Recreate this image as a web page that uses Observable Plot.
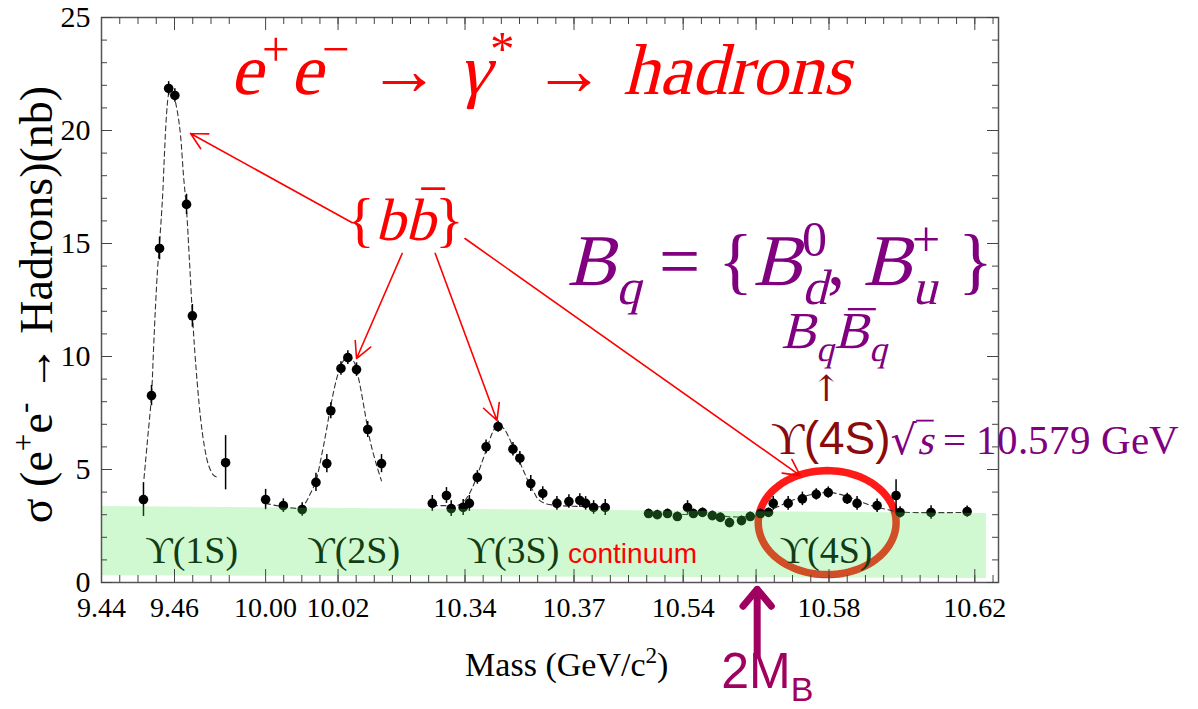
<!DOCTYPE html>
<html><head><meta charset="utf-8">
<script src="https://cdn.jsdelivr.net/npm/d3@7"></script>
<script src="https://cdn.jsdelivr.net/npm/@observablehq/plot@0.6"></script>
<style>
@font-face{font-family:"MathSerif";src:local("Liberation Serif"),local("LiberationSerif"),local("Times New Roman");font-style:normal;font-weight:400;}
html,body{margin:0;padding:0;background:#fff} svg{display:block}
</style>
</head><body><div id="chart"></div>
<script>
// ---------------- data (mass in GeV/c^2, sigma in nb) ----------------
const mass1 = [9.4515, 9.4537, 9.4559, 9.4584, 9.4601, 9.4633, 9.4649, 9.4740];
const sigma1 = [3.67, 8.27, 14.78, 21.86, 21.55, 16.73, 11.80, 5.30];
const err1 = [0.75, 0.45, 0.50, 0.30, 0.30, 0.45, 0.50, 1.20];

const mass2 = [10.0000, 10.0049, 10.0101, 10.0139, 10.0169, 10.0180, 10.0208, 10.0227, 10.0251, 10.0282, 10.0320];
const sigma2 = [3.67, 3.40, 3.23, 4.43, 5.26, 7.60, 9.47, 9.95, 9.42, 6.77, 5.26];
const err2 = [0.45, 0.30, 0.30, 0.40, 0.40, 0.35, 0.30, 0.30, 0.30, 0.35, 0.40];

const mass3 = [10.3310, 10.3349, 10.3362, 10.3395, 10.3412, 10.3434, 10.3458, 10.3491, 10.3532, 10.3551, 10.3581, 10.3614, 10.3653, 10.3686, 10.3716, 10.3732, 10.3754, 10.3786];
const sigma3 = [3.50, 3.85, 3.27, 3.32, 3.50, 4.65, 6.00, 6.90, 5.90, 5.50, 4.38, 3.94, 3.50, 3.58, 3.63, 3.50, 3.32, 3.32];
const err3 = [0.35, 0.35, 0.35, 0.35, 0.35, 0.30, 0.30, 0.25, 0.30, 0.30, 0.35, 0.30, 0.30, 0.30, 0.30, 0.30, 0.30, 0.35];

const mass4 = [10.5305, 10.5329, 10.5357, 10.5384, 10.5412, 10.5428, 10.5453, 10.5480, 10.5502, 10.5527, 10.5560, 10.5584, 10.5612, 10.5634, 10.5647, 10.5688, 10.5727, 10.5765, 10.5798, 10.5850, 10.5877, 10.5932, 10.5984, 10.5995, 10.6080, 10.6179];
const sigma4 = [3.05, 3.00, 3.05, 2.92, 3.32, 3.05, 3.10, 2.96, 2.88, 2.65, 2.74, 2.92, 3.05, 3.10, 3.50, 3.50, 3.70, 3.90, 3.98, 3.70, 3.50, 3.40, 3.85, 3.10, 3.10, 3.14];
const err4 = [0.20, 0.20, 0.20, 0.20, 0.30, 0.20, 0.20, 0.20, 0.20, 0.20, 0.20, 0.20, 0.20, 0.20, 0.30, 0.30, 0.30, 0.25, 0.25, 0.25, 0.30, 0.30, 0.70, 0.25, 0.30, 0.25];

// dashed fit curves
const fitMass1 = [9.45164, 9.45260, 9.45370, 9.45425, 9.45479, 9.45534, 9.45589, 9.45671, 9.45726, 9.45781, 9.45836, 9.45890, 9.45973, 9.46082, 9.46164, 9.46247, 9.46329, 9.46411, 9.46493, 9.46575, 9.46712, 9.46822, 9.46932, 9.47068, 9.47178];
const fitSigma1 = [4.6, 6.3, 8.3, 10.3, 12.2, 13.8, 15.0, 17.0, 19.0, 20.7, 21.6, 21.9, 21.6, 20.8, 19.8, 18.0, 16.5, 14.2, 11.8, 9.8, 7.3, 6.0, 5.2, 4.75, 4.65];
const fitMass2 = [10.00000, 10.00493, 10.00952, 10.01089, 10.01226, 10.01390, 10.01555, 10.01664, 10.01774, 10.01884, 10.01993, 10.02103, 10.02240, 10.02349, 10.02459, 10.02596, 10.02733, 10.02842, 10.02925, 10.03062, 10.03199];
const fitSigma2 = [3.5, 3.35, 3.3, 3.5, 3.9, 4.5, 5.7, 6.6, 7.6, 8.5, 9.2, 9.7, 9.95, 9.95, 9.7, 8.8, 7.6, 6.6, 6.0, 5.2, 4.5];
const fitMass3 = [10.33103, 10.33486, 10.33760, 10.33952, 10.34144, 10.34281, 10.34418, 10.34527, 10.34637, 10.34747, 10.34856, 10.34966, 10.35075, 10.35185, 10.35322, 10.35459, 10.35568, 10.35678, 10.35788, 10.35897, 10.36007, 10.36199, 10.36610, 10.37870];
const fitSigma3 = [3.4, 3.4, 3.4, 3.55, 4.0, 4.5, 5.1, 5.6, 6.1, 6.6, 6.9, 6.95, 6.8, 6.5, 6.0, 5.5, 5.1, 4.7, 4.3, 4.0, 3.7, 3.5, 3.4, 3.35];
const fitMass4 = [10.53048, 10.54473, 10.55568, 10.56116, 10.56390, 10.56664, 10.56938, 10.57212, 10.57486, 10.57760, 10.58034, 10.58308, 10.58582, 10.58856, 10.59130, 10.59404, 10.59678, 10.59952, 10.61788];
const fitSigma4 = [3.0, 3.0, 2.9, 3.0, 3.2, 3.4, 3.6, 3.75, 3.88, 3.96, 3.98, 3.9, 3.75, 3.58, 3.42, 3.3, 3.2, 3.12, 3.1];

// continuum band (mass, lower, upper)
const bandMass = [9.44, 10.6232];
const bandLow = [0.30, 0.18];
const bandHigh = [3.36, 3.05];

// resonance labels
const resonanceNames = ["ϒ(1S)", "ϒ(2S)", "ϒ(3S)", "ϒ(4S)"];
const resonanceMass = [9.4647, 10.0243, 10.3532, 10.5792];

// broken mass axis
const segDomain = [9.44, 9.48, 9.995, 10.04, 10.325, 10.385, 10.525, 10.6265];
const segRange = [101, 247, 247, 410, 410, 628, 628, 998];
const xTickValues = [9.44, 9.46, 10.00, 10.02, 10.34, 10.37, 10.54, 10.58, 10.62];
const xTickLabels = ["9.44", "9.46", "10.00", "10.02", "10.34", "10.37", "10.54", "10.58", "10.62"];
const xMajorTicks = [9.46, 10.00, 10.02, 10.34, 10.37, 10.54, 10.56, 10.58, 10.62];
const xMinorTicks = [
  ...d3.range(9.445, 9.4751, 0.005),
  ...d3.range(10.005, 10.0401, 0.005),
  ...d3.range(10.330, 10.3851, 0.005),
  ...d3.range(10.530, 10.6251, 0.005)
];
const yTickValues = [0, 5, 10, 15, 20, 25];
const yMinorTicks = d3.range(1, 25);

// ---------------- build tables ----------------
const points = [
  ...mass1.map((m, i) => ({m, s: sigma1[i], e: err1[i]})),
  ...mass2.map((m, i) => ({m, s: sigma2[i], e: err2[i]})),
  ...mass3.map((m, i) => ({m, s: sigma3[i], e: err3[i]})),
  ...mass4.map((m, i) => ({m, s: sigma4[i], e: err4[i]}))
];
const fits = [
  ...fitMass1.map((m, i) => ({peak: 1, m, s: fitSigma1[i]})),
  ...fitMass2.map((m, i) => ({peak: 2, m, s: fitSigma2[i]})),
  ...fitMass3.map((m, i) => ({peak: 3, m, s: fitSigma3[i]})),
  ...fitMass4.map((m, i) => ({peak: 4, m, s: fitSigma4[i]}))
];
const band = bandMass.map((m, i) => ({m, lo: bandLow[i], hi: bandHigh[i]}));
const resonances = resonanceNames.map((name, i) => ({name, m: resonanceMass[i]}));

const MPP = (segDomain[1] - segDomain[0]) / (segRange[1] - segRange[0]); // mass per px
const SPP = 25 / (582 - 17); // sigma per px
const LEFT = segDomain[0], RIGHT = segDomain[segDomain.length - 1];

// ring around Υ(4S)
const ring = {m: 10.5795, s: 2.65, rm: 69 * MPP, rs: 52 * SPP};
const ringPts = d3.range(0, 362, 3).map(a => ({m: ring.m + ring.rm * Math.cos(a * Math.PI / 180), s: ring.s + ring.rs * Math.sin(a * Math.PI / 180)}));

// annotation arrows (data coordinates)
const bbArrows = [
  {x1: 10.0238, y1: 15.93, x2: 9.4644, y2: 19.87},
  {x1: 10.0377, y1: 14.56, x2: 10.0251, y2: 9.91},
  {x1: 10.3318, y1: 14.56, x2: 10.3488, y2: 7.17},
  {x1: 10.3400, y1: 15.22, x2: 10.5721, y2: 4.73}
];
const mbArrow = [{x1: 10.5603, y1: -3.23, x2: 10.5603, y2: -0.30}];

const SERIF = "Liberation Serif, Times New Roman, serif";
const MATH = "MathSerif, Liberation Serif, serif";
const SANS = "Liberation Sans, Arial, sans-serif";
const RED = "#ff0000", PURPLE = "#800080", DARKRED = "#8b0a0a", MAGENTA = "#a0005f";

function build() {
  const T = (key, x, y, o = {}) => Plot.text([key], {x: () => x, y: () => y, text: d => d, fontFamily: SERIF, ...o});

  const chart = Plot.plot({
    width: 1198, height: 709,
    marginLeft: 101, marginRight: 200, marginTop: 17, marginBottom: 127,
    style: {background: "#fff", overflow: "visible"},
    x: {type: "linear", domain: segDomain, range: segRange, axis: null},
    y: {type: "linear", domain: [0, 25], range: [582, 17], axis: null},
    marks: [
      Plot.line(ringPts, {x: "m", y: "s", stroke: "#ff1a1a", strokeWidth: 7.5}),
      Plot.line(fits, {x: "m", y: "s", z: "peak", stroke: "#333", strokeWidth: 1.1, strokeDasharray: "5,3.5", curve: "catmull-rom"}),
      Plot.ruleX(points, {x: "m", y1: d => d.s - d.e, y2: d => d.s + d.e, stroke: "#000", strokeWidth: 1.5}),
      Plot.dot(points, {x: "m", y: "s", r: 4.8, fill: "#000"}),
      Plot.text(resonances, {x: "m", y: () => 1.42, text: "name", fontFamily: SERIF, fontSize: 38, fill: "#000"}),
      Plot.area(band, {x1: "m", y1: "lo", y2: "hi", fill: "#4de64d", fillOpacity: 0.26}),
      Plot.frame({stroke: "#555", strokeWidth: 1.5}),
      Plot.ruleX(xMinorTicks, {x: d => d, y1: 0, y2: 7 * SPP, stroke: "#444", strokeWidth: 1}),
      Plot.ruleX(xMajorTicks, {x: d => d, y1: 0, y2: 13 * SPP, stroke: "#444", strokeWidth: 1}),
      Plot.ruleX(xMinorTicks, {x: d => d, y1: 25, y2: 25 - 7 * SPP, stroke: "#444", strokeWidth: 1}),
      Plot.ruleX(xMajorTicks, {x: d => d, y1: 25, y2: 25 - 13 * SPP, stroke: "#444", strokeWidth: 1}),
      Plot.ruleY(yMinorTicks, {y: d => d, x1: LEFT, x2: LEFT + 6 * MPP, stroke: "#444", strokeWidth: 1}),
      Plot.ruleY(yTickValues, {y: d => d, x1: LEFT, x2: LEFT + 11 * MPP, stroke: "#444", strokeWidth: 1}),
      Plot.ruleY(yMinorTicks, {y: d => d, x1: RIGHT, x2: RIGHT - 6 * MPP, stroke: "#444", strokeWidth: 1}),
      Plot.ruleY(yTickValues, {y: d => d, x1: RIGHT, x2: RIGHT - 11 * MPP, stroke: "#444", strokeWidth: 1}),
      Plot.text(xTickValues, {x: d => d, y: () => 0, text: (d, i) => xTickLabels[i], dy: 26, fontFamily: SERIF, fontSize: 28, fill: "#000"}),
      Plot.text(yTickValues, {x: () => LEFT, y: d => d, text: d => String(d), dx: -11, textAnchor: "end", fontFamily: SERIF, fontSize: 30, fill: "#000"}),
      T("Mass (GeV/c2)", 10.3680, -3.67, {fontSize: 34, fill: "#000"}),
      T("σ (e+e- → Hadrons)(nb)", 9.4225, 12.30, {fontSize: 46, fill: "#000", rotate: -90}),
      Plot.arrow(bbArrows, {x1: "x1", y1: "y1", x2: "x2", y2: "y2", stroke: RED, strokeWidth: 1.6, headLength: 17, headAngle: 55}),
      Plot.arrow(mbArrow, {x1: "x1", y1: "y1", x2: "x2", y2: "y2", stroke: MAGENTA, strokeWidth: 7, headLength: 26, headAngle: 80}),
      T("TITLE", 10.3609, 22.65, {fontSize: 72, fill: RED, fontFamily: MATH}),
      T("BB", 10.0386, 16.02, {fontSize: 60, fill: RED, fontFamily: MATH}),
      T("BQ", 10.5666, 14.20, {fontSize: 73, fill: PURPLE, fontFamily: MATH}),
      T("BQBQ", 10.5814, 11.12, {fontSize: 52, fill: PURPLE, fontFamily: MATH}),
      T("↑", 10.5792, 8.55, {fontSize: 36, fill: DARKRED, fontFamily: "DejaVu Serif"}),
      T("U4S", 10.5640, 6.35, {fontSize: 46, fill: DARKRED, textAnchor: "start", fontFamily: MATH}),
      T("continuum", 10.5261, 1.28, {fontSize: 28, fill: RED, fontFamily: SANS}),
      T("MB", 10.5631, -3.98, {fontSize: 50, fill: MAGENTA, fontFamily: SANS})
    ]
  });
  document.getElementById("chart").appendChild(chart);

  // ---------------- rich text (sub/superscripts, italics, bars) ----------------
  const NS = "http://www.w3.org/2000/svg";
  const ctx = document.createElement("canvas").getContext("2d");
  function richify(key, segs, size, barGap = 0.09) {
    const el = Array.from(chart.querySelectorAll("text")).find(t => t.textContent === key);
    if (!el) return;
    el.textContent = "";
    let off = 0, prevW = 0, pendingDx = 0, idx = 0;
    const info = [];
    for (const [txt, kind = "", fill, segSize] of segs) {
      const k = kind.split(" ");
      const base = segSize || size;
      const ts = document.createElementNS(NS, "tspan");
      ts.textContent = txt;
      let target = 0, fs = base;
      if (k.includes("sub")) { target = 0.26 * size; fs = 0.68 * base; }
      if (k.includes("sup")) { target = -0.40 * size; fs = 0.68 * base; }
      if (target - off !== 0) ts.setAttribute("dy", target - off);
      off = target;
      ts.setAttribute("font-size", fs);
      const italic = k.includes("i");
      ts.setAttribute("font-style", italic ? "italic" : "normal");
      let fam = null;
      if (k.includes("sans")) fam = SANS;
      if (k.includes("djv")) fam = "DejaVu Serif";
      if (fam) ts.setAttribute("font-family", fam);
      if (fill) ts.setAttribute("fill", fill);
      el.appendChild(ts);
      if (k.includes("stack")) {
        ts.setAttribute("dx", -prevW);
        const w = ts.getComputedTextLength();
        pendingDx = Math.max(0, prevW - w);
        prevW = w;
      } else {
        if (pendingDx) { ts.setAttribute("dx", pendingDx); pendingDx = 0; }
        prevW = ts.getComputedTextLength();
      }
      info.push({txt, k, idx, fs, italic, fam: fam || el.parentNode.getAttribute("font-family") || MATH, fill});
      idx += txt.length;
    }
    const color = (f) => f || getComputedStyle(el).fill;
    info.forEach((s, j) => {
      if (!s.k.includes("ov") && !s.k.includes("vin")) return;
      const p0 = el.getStartPositionOfChar(s.idx);
      const p1 = el.getEndPositionOfChar(s.idx + s.txt.length - 1);
      const line = document.createElementNS(NS, "line");
      let x1, x2, y, th;
      if (s.k.includes("vin")) {
        const r = info[j - 1];
        ctx.font = `${r.fs}px ${r.fam}`;
        const m = ctx.measureText(r.txt);
        th = 0.045 * r.fs;
        const rEnd = el.getEndPositionOfChar(r.idx + r.txt.length - 1);
        x1 = rEnd.x - 0.6; x2 = p1.x + 1; y = p0.y - m.actualBoundingBoxAscent + th / 2;
      } else {
        ctx.font = `${s.fs}px ${s.fam}`;
        const asc = ctx.measureText(s.txt).actualBoundingBoxAscent;
        const h = asc + barGap * s.fs;
        const shift = s.italic ? h * 0.22 : 0;
        const w = p1.x - p0.x;
        th = 0.045 * s.fs;
        x1 = p0.x + 0.15 * w + shift; x2 = p1.x - 0.05 * w + shift; y = p0.y - h;
      }
      line.setAttribute("x1", x1); line.setAttribute("x2", x2);
      line.setAttribute("y1", y); line.setAttribute("y2", y);
      line.setAttribute("stroke", color(s.fill));
      line.setAttribute("stroke-width", th);
      const tr = el.getAttribute("transform");
      if (tr) line.setAttribute("transform", tr);
      el.parentNode.appendChild(line);
    });
  }
  richify("TITLE", [["e", "i"], ["+", "sup"], ["e", "i"], ["−", "sup"], [" → ", ""], ["γ", "i"], ["*", "sup"], [" → ", ""], ["hadrons", "i"]], 72);
  richify("BB", [["{", ""], ["b", "i"], ["b", "i ov"], ["}", ""]], 60, 0.15);
  richify("BQ", [["B", "i"], ["q", "i sub"], [" = {", ""], ["B", "i"], ["d", "i sub"], ["0", "sup stack"], [", ", ""], ["B", "i"], ["u", "i sub"], ["+", "sup stack"], [" }", ""]], 73);
  richify("BQBQ", [["B", "i"], ["q", "i sub"], ["B", "i ov"], ["q", "i sub"]], 52);
  richify("U4S", [["ϒ", "", DARKRED], ["(4S)", "sans", DARKRED], ["√", "djv", PURPLE, 41], ["s", "i vin", PURPLE, 41], [" = 10.579 GeV", "", PURPLE, 41]], 46);
  richify("MB", [["2M", "sans"], ["B", "sans sub"]], 50);
  richify("Mass (GeV/c2)", [["Mass (GeV/c", ""], ["2", "sup"], [")", ""]], 34);
  richify("σ (e+e- → Hadrons)(nb)", [["σ (e", ""], ["+", "sup"], ["e", ""], ["-", "sup"], [" → Hadrons)(nb)", ""]], 46);
}

(async () => {
  try {
    await Promise.race([
      Promise.all([document.fonts.load('40px "MathSerif"'), document.fonts.load('italic 40px "MathSerif"')]),
      new Promise(r => setTimeout(r, 1500))
    ]);
  } catch (e) {}
  build();
})();
</script>
</body></html>
